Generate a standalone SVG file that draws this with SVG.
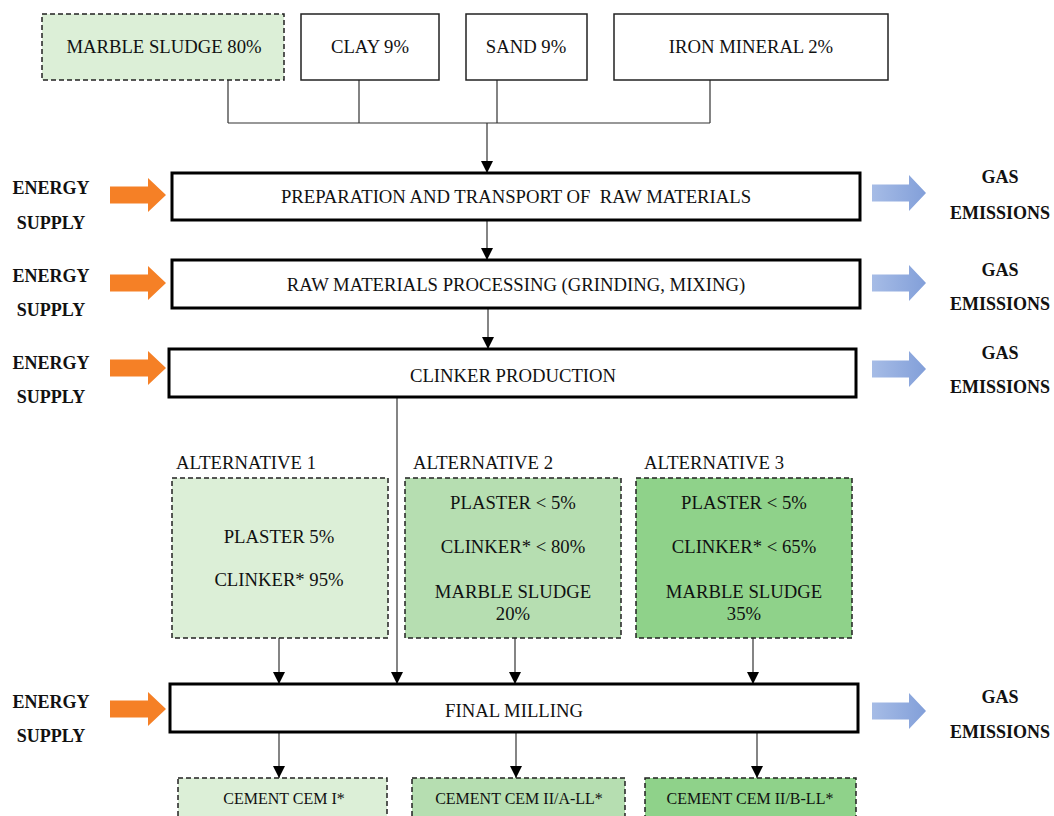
<svg xmlns="http://www.w3.org/2000/svg" width="1054" height="816" viewBox="0 0 1054 816">
<style>
  text { font-family: "Liberation Serif", "Times New Roman", serif; fill: #111; }
  .t18 { font-size: 18.7px; text-anchor: middle; }
  .t16 { font-size: 16px; text-anchor: middle; }
  .lab { font-size: 18.7px; }
  .side { font-size: 18px; font-weight: bold; text-anchor: middle; }
  .plain { fill: #fff; stroke: #222; stroke-width: 1.5; }
  .proc { fill: #fff; stroke: #000; stroke-width: 3; }
  .dash { stroke: #222; stroke-width: 1.5; stroke-dasharray: 5 3; }
  .g1 { fill: #dcefd7; }
  .g2 { fill: #b6deb1; }
  .g3 { fill: #8fd28a; }
  .line { fill: none; stroke: #333; stroke-width: 1.2; }
  .energy { fill: #f58026; }
  .gas { fill: url(#gasGrad); }
</style>
<defs>
  <marker id="ah" viewBox="0 0 12 12" refX="12" refY="6" markerWidth="12" markerHeight="12" markerUnits="userSpaceOnUse" orient="auto">
    <path d="M0,0 L12,6 L0,12 Z" fill="#000"/>
  </marker>
  <linearGradient id="gasGrad" x1="0" y1="0" x2="1" y2="0">
    <stop offset="0" stop-color="#a6bce6"/>
    <stop offset="1" stop-color="#829fd9"/>
  </linearGradient>
  <path id="earrow" d="M0,-8.5 H38 V-17 L56,0 L38,17 V8.5 H0 Z"/>
  <path id="garrow" d="M0,-8.5 H37 V-18 L54,0 L37,18 V8.5 H0 Z"/>
</defs>
<rect width="1054" height="816" fill="#fff"/>

<g id="connectors">
  <path class="line" d="M228,80 V123 M359,80 V123 M497,80 V123 M710,80 V123 M228,123 H710"/>
  <path class="line" d="M487,123 V173" marker-end="url(#ah)"/>
  <path class="line" d="M487,220 V260" marker-end="url(#ah)"/>
  <path class="line" d="M488,308 V349" marker-end="url(#ah)"/>
  <path class="line" d="M397,397 V684" marker-end="url(#ah)"/>
  <path class="line" d="M279,638 V684" marker-end="url(#ah)"/>
  <path class="line" d="M515,638 V684" marker-end="url(#ah)"/>
  <path class="line" d="M753,638 V684" marker-end="url(#ah)"/>
  <path class="line" d="M279,732 V778" marker-end="url(#ah)"/>
  <path class="line" d="M516,732 V778" marker-end="url(#ah)"/>
  <path class="line" d="M757,732 V778" marker-end="url(#ah)"/>
</g>

<g id="marble">
  <rect class="g1 dash" x="42" y="14" width="242" height="66"/>
  <text class="t18" x="164" y="53">MARBLE SLUDGE 80%</text>
</g>
<g id="clay">
  <rect class="plain" x="301" y="14" width="138" height="66"/>
  <text class="t18" x="370" y="53">CLAY 9%</text>
</g>
<g id="sand">
  <rect class="plain" x="466" y="14" width="121" height="66"/>
  <text class="t18" x="526" y="53">SAND 9%</text>
</g>
<g id="iron">
  <rect class="plain" x="614" y="14" width="274" height="66"/>
  <text class="t18" x="751" y="53">IRON MINERAL 2%</text>
</g>

<g id="prep">
  <rect class="proc" x="172" y="173" width="688" height="47"/>
  <text class="t18" x="516" y="203" style="white-space:pre">PREPARATION AND TRANSPORT OF  RAW MATERIALS</text>
</g>
<g id="processing">
  <rect class="proc" x="172" y="260" width="688" height="48"/>
  <text class="t18" x="516" y="291">RAW MATERIALS PROCESSING (GRINDING, MIXING)</text>
</g>
<g id="clinker">
  <rect class="proc" x="169" y="349" width="687" height="48"/>
  <text class="t18" x="513" y="382">CLINKER PRODUCTION</text>
</g>

<g id="alt1">
  <text class="lab" x="176" y="469">ALTERNATIVE 1</text>
  <rect class="g1 dash" x="172" y="478" width="216" height="160"/>
  <text class="t18" x="279" y="543">PLASTER 5%</text>
  <text class="t18" x="279" y="586">CLINKER* 95%</text>
</g>
<g id="alt2">
  <text class="lab" x="413" y="469">ALTERNATIVE 2</text>
  <rect class="g2 dash" x="405" y="478" width="216" height="160"/>
  <text class="t18" x="513" y="509">PLASTER &lt; 5%</text>
  <text class="t18" x="513" y="553">CLINKER* &lt; 80%</text>
  <text class="t18" x="513" y="598">MARBLE SLUDGE</text>
  <text class="t18" x="513" y="620">20%</text>
</g>
<g id="alt3">
  <text class="lab" x="644" y="469">ALTERNATIVE 3</text>
  <rect class="g3 dash" x="636" y="478" width="216" height="160"/>
  <text class="t18" x="744" y="509">PLASTER &lt; 5%</text>
  <text class="t18" x="744" y="553">CLINKER* &lt; 65%</text>
  <text class="t18" x="744" y="598">MARBLE SLUDGE</text>
  <text class="t18" x="744" y="620">35%</text>
</g>

<g id="milling">
  <rect class="proc" x="170" y="684" width="688" height="48"/>
  <text class="t18" x="514" y="717">FINAL MILLING</text>
</g>

<g id="cem1">
  <rect class="g1 dash" x="178" y="778" width="209" height="50"/>
  <text class="t16" x="284" y="804">CEMENT CEM I*</text>
</g>
<g id="cem2">
  <rect class="g2 dash" x="412" y="778" width="213" height="50"/>
  <text class="t16" x="519" y="804">CEMENT CEM II/A-LL*</text>
</g>
<g id="cem3">
  <rect class="g3 dash" x="645" y="778" width="211" height="50"/>
  <text class="t16" x="750" y="804">CEMENT CEM II/B-LL*</text>
</g>

<g id="energy1">
  <use href="#earrow" class="energy" x="110" y="195"/>
  <text class="side" x="51" y="194">ENERGY</text>
  <text class="side" x="51" y="229">SUPPLY</text>
</g>
<g id="energy2">
  <use href="#earrow" class="energy" x="110" y="283"/>
  <text class="side" x="51" y="282">ENERGY</text>
  <text class="side" x="51" y="316">SUPPLY</text>
</g>
<g id="energy3">
  <use href="#earrow" class="energy" x="110" y="368"/>
  <text class="side" x="51" y="369">ENERGY</text>
  <text class="side" x="51" y="403">SUPPLY</text>
</g>
<g id="energy4">
  <use href="#earrow" class="energy" x="110" y="709"/>
  <text class="side" x="51" y="708">ENERGY</text>
  <text class="side" x="51" y="742">SUPPLY</text>
</g>

<g id="gas1">
  <use href="#garrow" class="gas" x="872" y="193"/>
  <text class="side" x="1000" y="183">GAS</text>
  <text class="side" x="1000" y="219">EMISSIONS</text>
</g>
<g id="gas2">
  <use href="#garrow" class="gas" x="872" y="283"/>
  <text class="side" x="1000" y="276">GAS</text>
  <text class="side" x="1000" y="310">EMISSIONS</text>
</g>
<g id="gas3">
  <use href="#garrow" class="gas" x="872" y="369"/>
  <text class="side" x="1000" y="359">GAS</text>
  <text class="side" x="1000" y="393">EMISSIONS</text>
</g>
<g id="gas4">
  <use href="#garrow" class="gas" x="872" y="711"/>
  <text class="side" x="1000" y="703">GAS</text>
  <text class="side" x="1000" y="738">EMISSIONS</text>
</g>
</svg>
